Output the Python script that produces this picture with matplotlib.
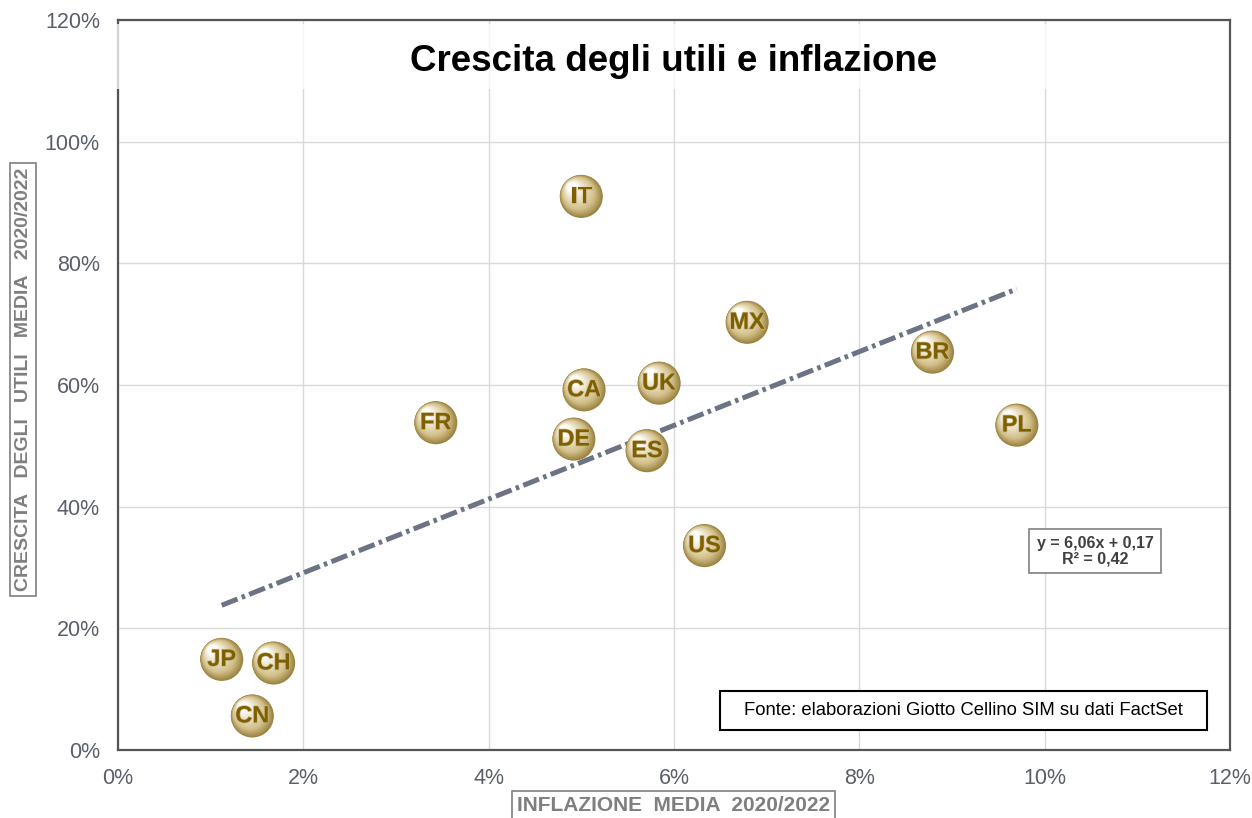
import numpy as np
import matplotlib
matplotlib.use("Agg")
import matplotlib.pyplot as plt
from matplotlib.colors import to_rgb
from matplotlib.patches import Rectangle
import matplotlib.transforms as mtransforms
import matplotlib.patheffects as pe

plt.rcParams['font.family'] = ['Liberation Sans', 'DejaVu Sans']

# data (inflation %, earnings growth %)
countries = ['IT', 'MX', 'BR', 'PL', 'UK', 'CA', 'FR', 'DE', 'ES', 'US', 'JP', 'CH', 'CN']
inflation = [5.00, 6.79, 8.79, 9.70, 5.84, 5.03, 3.43, 4.92, 5.71, 6.33, 1.12, 1.68, 1.45]
growth = [91.0, 70.3, 65.4, 53.4, 60.3, 59.2, 53.8, 51.1, 49.2, 33.6, 14.9, 14.3, 5.6]

slope = 6.06
intercept = 0.17
r2 = 0.42

x_ticks = [0, 2, 4, 6, 8, 10, 12]
y_ticks = [0, 20, 40, 60, 80, 100, 120]

x = np.array(inflation) / 100
y = np.array(growth) / 100

fig = plt.figure(figsize=(12.52, 8.18), dpi=100)
ax = fig.add_axes([0.0942, 0.0831, 0.8882, 0.8925])

ax.set_xlim(0, 0.12)
ax.set_ylim(0, 1.2)
ax.set_xticks([t / 100 for t in x_ticks])
ax.set_yticks([t / 100 for t in y_ticks])
ax.set_xticklabels([f"{t}%" for t in x_ticks])
ax.set_yticklabels([f"{t}%" for t in y_ticks])
ax.tick_params(length=0, labelsize=15.5, labelcolor='#5a5f6a')
ax.tick_params(axis='x', pad=13)
ax.tick_params(axis='y', pad=13)
ax.grid(True, color='#d9d9d9', lw=1)
ax.set_axisbelow(True)
for s in ax.spines.values():
    s.set_color('#555555')
    s.set_linewidth(1.6)

# trend line
xt = np.linspace(x.min(), x.max(), 50)
ax.plot(xt, slope * xt + intercept, color='#6b7385', lw=3.6,
        linestyle=(0, (3.4, 0.9, 0.7, 0.9)), zorder=3)

# shaded "sphere" markers
dark = np.array(to_rgb('#9a8240'))
mid = np.array(to_rgb('#d2bf88'))
light = np.array(to_rgb('#fffefa'))
n = 28
diam = 31.0  # points
for i in range(n):
    t = i / (n - 1)
    if t < 0.3:
        c = dark + (mid - dark) * (t / 0.3)
    else:
        c = mid + (light - mid) * ((t - 0.3) / 0.7)
    d = diam * (1 - 0.78 * t)
    off = diam * 0.22 * t
    tr = ax.transData + mtransforms.ScaledTranslation(-off / 72, off / 72, fig.dpi_scale_trans)
    ax.scatter(x, y, s=d ** 2, color=c, edgecolors='none', transform=tr, zorder=4 + i * 0.01)

for cn, xi, yi in zip(countries, x, y):
    ax.text(xi, yi, cn, ha='center', va='center', fontsize=17, fontweight='bold',
            color='#7f6000', zorder=6,
            path_effects=[pe.withStroke(linewidth=1.0, foreground='#c8b888')])

# title area
ax.add_patch(Rectangle((-0.003, 0.905), 0.992, 0.09, transform=ax.transAxes,
                       facecolor='white', alpha=0.75, edgecolor='none', zorder=5,
                       clip_on=False))
ax.text(0.5, 0.943, 'Crescita degli utili e inflazione', transform=ax.transAxes,
        ha='center', va='center', fontsize=26.5, fontweight='bold', color='black', zorder=6)

# regression equation
ax.text(0.8786, 0.2726, f"y = {slope:.2f}x + {intercept:.2f}\nR² = {r2:.2f}".replace('.', ','),
        transform=ax.transAxes, ha='center', va='center', fontsize=11.5,
        fontweight='bold', color='#404040', linespacing=1.0, zorder=6,
        bbox=dict(boxstyle='square,pad=0.45', facecolor='white', edgecolor='#808080', lw=1.2))

# source
ax.add_patch(Rectangle((0.5414, 0.0273), 0.4379, 0.0533, transform=ax.transAxes,
                       facecolor='white', edgecolor='black', lw=1.5, zorder=5))
ax.text(0.760, 0.054, 'Fonte: elaborazioni Giotto Cellino SIM su dati FactSet',
        transform=ax.transAxes, ha='center', va='center', fontsize=13.3, color='black', zorder=6)

# axis labels in boxes
fig.text(0.0184, 0.536, 'CRESCITA   DEGLI   UTILI   MEDIA   2020/2022', rotation=90,
         ha='center', va='center', fontsize=14, fontweight='bold', color='#7f7f7f',
         bbox=dict(boxstyle='square,pad=0.25', facecolor='white', edgecolor='#7f7f7f', lw=1.2))
fig.text(0.538, 0.0147, 'INFLAZIONE  MEDIA  2020/2022',
         ha='center', va='center', fontsize=15, fontweight='bold', color='#7f7f7f',
         bbox=dict(boxstyle='square,pad=0.25', facecolor='white', edgecolor='#7f7f7f', lw=1.2))

fig.savefig('out.png', dpi=100)
